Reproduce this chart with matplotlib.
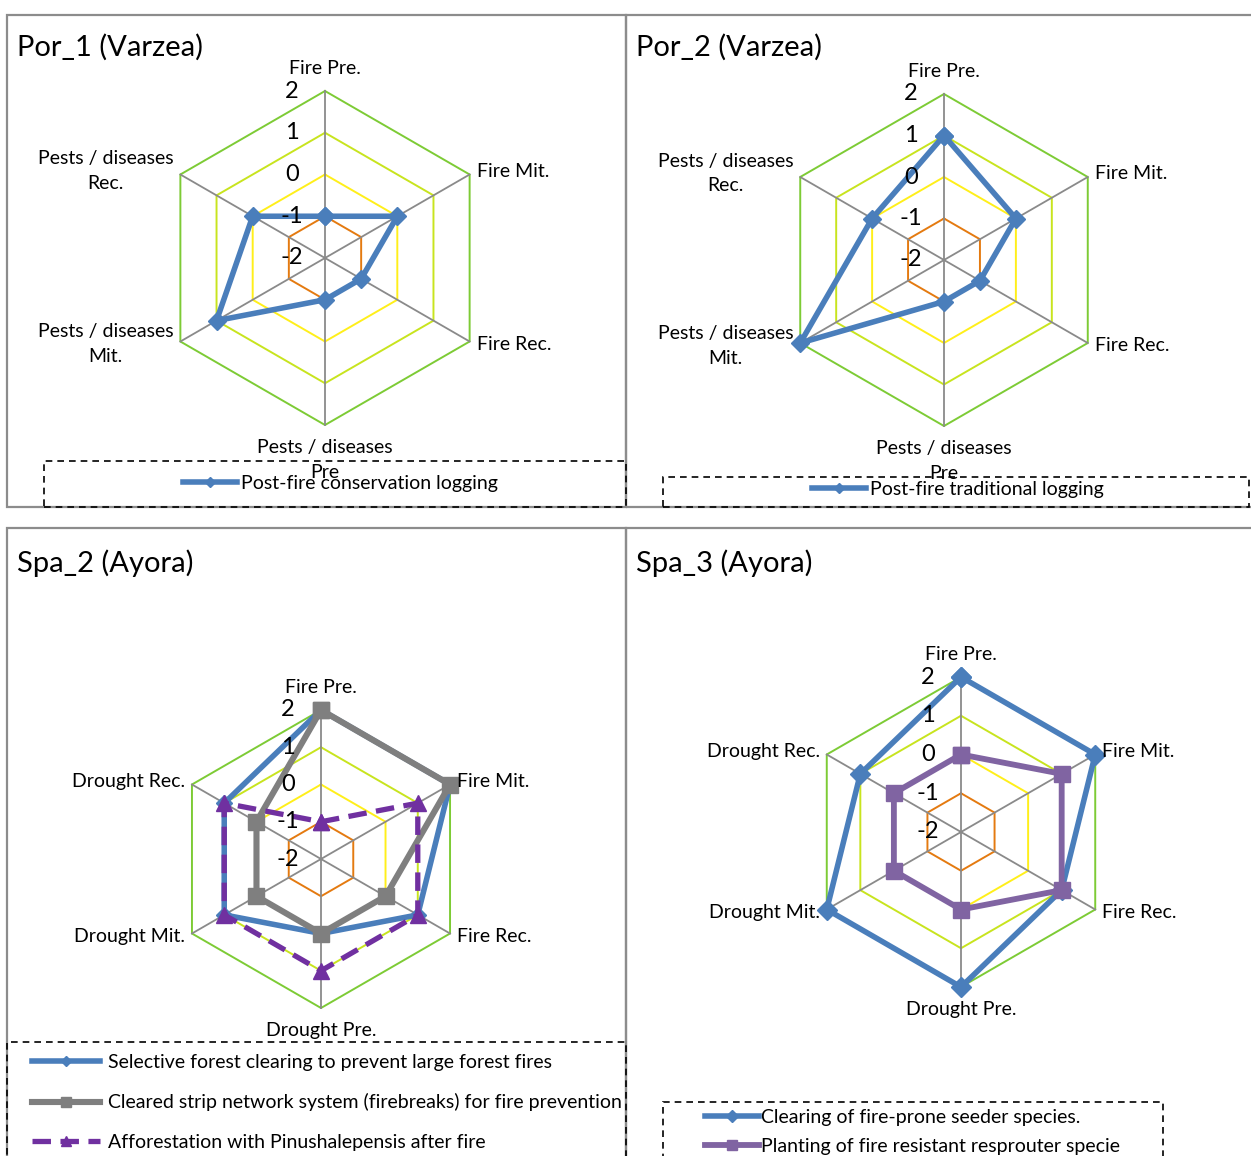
import matplotlib.pyplot as plt
from matplotlib.patches import Rectangle
import numpy as np

plt.rcParams["font.family"] = ["Lato", "DejaVu Sans"]

# axis categories
por_axes = ["Fire Pre.", "Fire Mit.", "Fire Rec.",
            "Pests / diseases\nPre", "Pests / diseases\nMit.", "Pests / diseases\nRec."]
spa_axes = ["Fire Pre.", "Fire Mit.", "Fire Rec.",
            "Drought Pre.", "Drought Mit.", "Drought Rec."]

# scores per measure (-2 .. 2)
por1_conservation = [-1, 0, -1, -1, 1, 0]
por2_traditional = [1, 0, -1, -1, 2, 0]
spa2_selective = [2, 2, 1, 0, 1, 1]
spa2_firebreaks = [2, 2, 0, 0, 0, 0]
spa2_afforestation = [-1, 1, 1, 1, 1, 1]
spa3_clearing = [2, 2, 1, 2, 2, 1]
spa3_planting = [0, 1, 1, 0, 0, 0]

ring_levels = [-1, 0, 1, 2]
ring_colors = ["#E47A10", "#FFEF1A", "#C8E41E", "#7DCB35"]
scale_ticks = [2, 1, 0, -1, -2]

BLUE = "#4A7EBB"
GRAY = "#7F7F7F"
DPURPLE = "#7030A0"
PURPLE = "#8064A2"
BORDER = "#8C8C8C"

W, H = 1251, 1156
fig = plt.figure(figsize=(W / 100, H / 100), dpi=100)
fig.patch.set_facecolor("white")


def fx(x):
    return x / W


def fy(y):
    return 1 - y / H


def box(x0, y0, x1, y1, **kw):
    r = Rectangle((fx(x0), fy(y1)), fx(x1) - fx(x0), fy(y0) - fy(y1),
                  transform=fig.transFigure, fill=False, **kw)
    fig.add_artist(r)
    return r


def radar(cx, cy, R, labels):
    ax = fig.add_axes([fx(cx - R), fy(cy + R), 2 * R / W, 2 * R / H],
                      projection="polar")
    ax.set_theta_offset(np.pi / 2)
    ax.set_theta_direction(-1)
    ax.set_ylim(-2, 2)
    ax.set_xticks([])
    ax.set_yticks([])
    ax.grid(False)
    ax.spines["polar"].set_visible(False)
    ax.patch.set_visible(False)

    theta = np.arange(6) * 2 * np.pi / 6
    closed = np.append(theta, theta[0])
    for lvl, c in zip(ring_levels, ring_colors):
        ax.plot(closed, [lvl] * 7, color=c, lw=1.4, clip_on=False, zorder=1)
    for t in theta:
        ax.plot([t, t], [-2, 2], color="#8A8A8A", lw=1.3, clip_on=False, zorder=1.5)

    for v in scale_ticks:
        ax.annotate(str(v), xy=(0, v), xytext=(-24, 0), textcoords="offset points",
                    ha="center", va="center", fontsize=17, annotation_clip=False,
                    zorder=5)

    spots = [((0, 16), "center", "center"),
             ((5, 2.5), "left", "center"),
             ((5, -2), "left", "center"),
             ((0, -10), "center", "top"),
             ((-5, -2), "right", "center"),
             ((-5, 2.5), "right", "center")]
    for t, lab, (off, ha, va) in zip(theta, labels, spots):
        ax.annotate(lab, xy=(t, 2), xytext=off, textcoords="offset points",
                    ha=ha, va=va, multialignment="center", fontsize=14,
                    linespacing=1.55, annotation_clip=False, zorder=5)
    return ax, closed


def series(ax, closed, vals, color, marker, ms, label, lw=4, ls="-", dashes=None):
    kw = dict(color=color, lw=lw, marker=marker, ms=ms, mec=color, mfc=color,
              clip_on=False, zorder=3, label=label, ls=ls)
    if dashes is not None:
        kw["dashes"] = dashes
    ax.plot(closed, list(vals) + [vals[0]], **kw)


# panel frames
box(7, 15, 626, 507, ec=BORDER, lw=1.6)
box(626, 15, 1262, 507, ec=BORDER, lw=1.6)
box(7, 528, 626, 1170, ec=BORDER, lw=1.6)
box(626, 528, 1262, 1170, ec=BORDER, lw=1.6)

titles = [(17, 47, "Por_1 (Varzea)"), (636, 47, "Por_2 (Varzea)"),
          (17, 563, "Spa_2 (Ayora)"), (636, 563, "Spa_3 (Ayora)")]
for x, y, s in titles:
    fig.text(fx(x), fy(y), s, fontsize=21, ha="left", va="center")

# Por_1
ax1, cl = radar(325, 258, 167, por_axes)
series(ax1, cl, por1_conservation, BLUE, "D", 9, "Post-fire conservation logging")
box(44, 461, 626, 507, ec="black", lw=1.2, ls=(0, (4, 3)))
ax1.legend(loc="center left", bbox_to_anchor=(fx(173), fy(483)),
           bbox_transform=fig.transFigure, frameon=False, fontsize=14,
           borderpad=0, handlelength=2.8, handletextpad=0.2, markerscale=0.6)

# Por_2
ax2, cl = radar(944, 260, 166, por_axes)
series(ax2, cl, por2_traditional, BLUE, "D", 9, "Post-fire traditional logging")
box(663, 477, 1249, 507, ec="black", lw=1.2, ls=(0, (4, 3)))
ax2.legend(loc="center left", bbox_to_anchor=(fx(802), fy(489)),
           bbox_transform=fig.transFigure, frameon=False, fontsize=14,
           borderpad=0, handlelength=2.8, handletextpad=0.2, markerscale=0.6)

# Spa_2
ax3, cl = radar(321, 859, 149, spa_axes)
series(ax3, cl, spa2_selective, BLUE, "D", 8,
       "Selective forest clearing to prevent large forest fires")
series(ax3, cl, spa2_firebreaks, GRAY, "s", 11, lw=4.4,
       label="Cleared strip network system (firebreaks) for fire prevention")
series(ax3, cl, spa2_afforestation, DPURPLE, "^", 11, lw=3.8, dashes=(3.5, 1.8),
       label="Afforestation with Pinushalepensis after fire")
panel3 = box(7, 528, 626, 1170, ec="none", lw=0)
box(7, 1042, 626, 1170, ec="black", lw=1.2, ls=(0, (4, 3)))
leg3 = ax3.legend(loc="upper left", bbox_to_anchor=(fx(22), fy(1044)),
                  bbox_transform=fig.transFigure, frameon=False, fontsize=14,
                  borderpad=0, handlelength=3.5, handletextpad=0.4,
                  labelspacing=1.16, markerscale=0.65)
for t in leg3.get_texts():
    t.set_clip_path(panel3)
    t.set_clip_on(True)

# Spa_3
ax4, cl = radar(961, 832, 155, spa_axes)
series(ax4, cl, spa3_clearing, BLUE, "D", 10, "Clearing of fire-prone seeder species.")
series(ax4, cl, spa3_planting, PURPLE, "s", 11, lw=4.2,
       label="Planting of fire resistant resprouter specie")
box(663, 1102, 1163, 1170, ec="black", lw=1.2, ls=(0, (4, 3)))
ax4.legend(loc="upper left", bbox_to_anchor=(fx(695), fy(1099)),
           bbox_transform=fig.transFigure, frameon=False, fontsize=14,
           borderpad=0, handlelength=2.8, handletextpad=0.1,
           labelspacing=0.62, markerscale=0.6)

fig.savefig("out.png", dpi=100)
